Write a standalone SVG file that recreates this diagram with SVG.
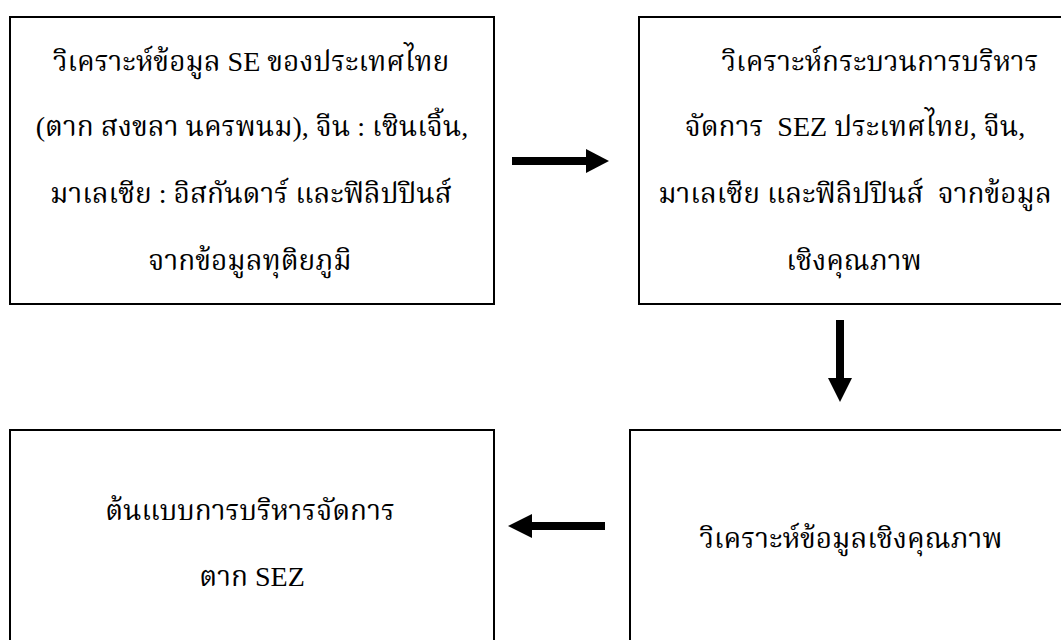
<svg xmlns="http://www.w3.org/2000/svg" width="1061" height="640" viewBox="0 0 1061 640">
  <defs>
    <style>
      .box { fill: #ffffff; stroke: #000000; stroke-width: 2; }
      .lbl { font-family: "Liberation Serif", "Noto Serif Thai", "Noto Sans Thai", serif; font-size: 28px; fill: #000000; text-anchor: middle; }
      .shaft { stroke: #000000; stroke-width: 8; fill: none; }
      .head { fill: #000000; }
    </style>
  </defs>
  <rect x="0" y="0" width="1061" height="640" fill="#ffffff"/>
  <g id="node-se-data">
    <rect class="box" x="10" y="17" width="484" height="287"/>
    <text class="lbl" x="251" y="71">วิเคราะห์ข้อมูล SE ของประเทศไทย</text>
    <text class="lbl" x="252" y="136">(ตาก สงขลา นครพนม), จีน : เซินเจิ้น,</text>
    <text class="lbl" x="251" y="203">มาเลเซีย : อิสกันดาร์ และฟิลิปปินส์</text>
    <text class="lbl" x="250" y="270">จากข้อมูลทุติยภูมิ</text>
  </g>
  <g id="node-sez-process">
    <rect class="box" x="639" y="17" width="440" height="287"/>
    <text class="lbl" x="880" y="71">วิเคราะห์กระบวนการบริหาร</text>
    <text class="lbl" x="855" y="136" xml:space="preserve">จัดการ  SEZ ประเทศไทย, จีน,</text>
    <text class="lbl" x="855" y="203" xml:space="preserve">มาเลเซีย และฟิลิปปินส์  จากข้อมูล</text>
    <text class="lbl" x="854" y="270">เชิงคุณภาพ</text>
  </g>
  <g id="node-qualitative">
    <rect class="box" x="630" y="430" width="450" height="230"/>
    <text class="lbl" x="851" y="548">วิเคราะห์ข้อมูลเชิงคุณภาพ</text>
  </g>
  <g id="node-model">
    <rect class="box" x="10" y="430" width="484" height="230"/>
    <text class="lbl" x="250" y="520">ต้นแบบการบริหารจัดการ</text>
    <text class="lbl" x="252" y="586">ตาก SEZ</text>
  </g>
  <g id="connectors">
    <line class="shaft" x1="512" y1="161" x2="587" y2="161"/>
    <polygon class="head" points="586,149 609,161 586,173"/>
    <line class="shaft" x1="840" y1="320" x2="840" y2="379"/>
    <polygon class="head" points="828,378 852,378 840,402"/>
    <line class="shaft" x1="605" y1="526" x2="531" y2="526"/>
    <polygon class="head" points="532,514 508,526 532,538"/>
  </g>
</svg>
